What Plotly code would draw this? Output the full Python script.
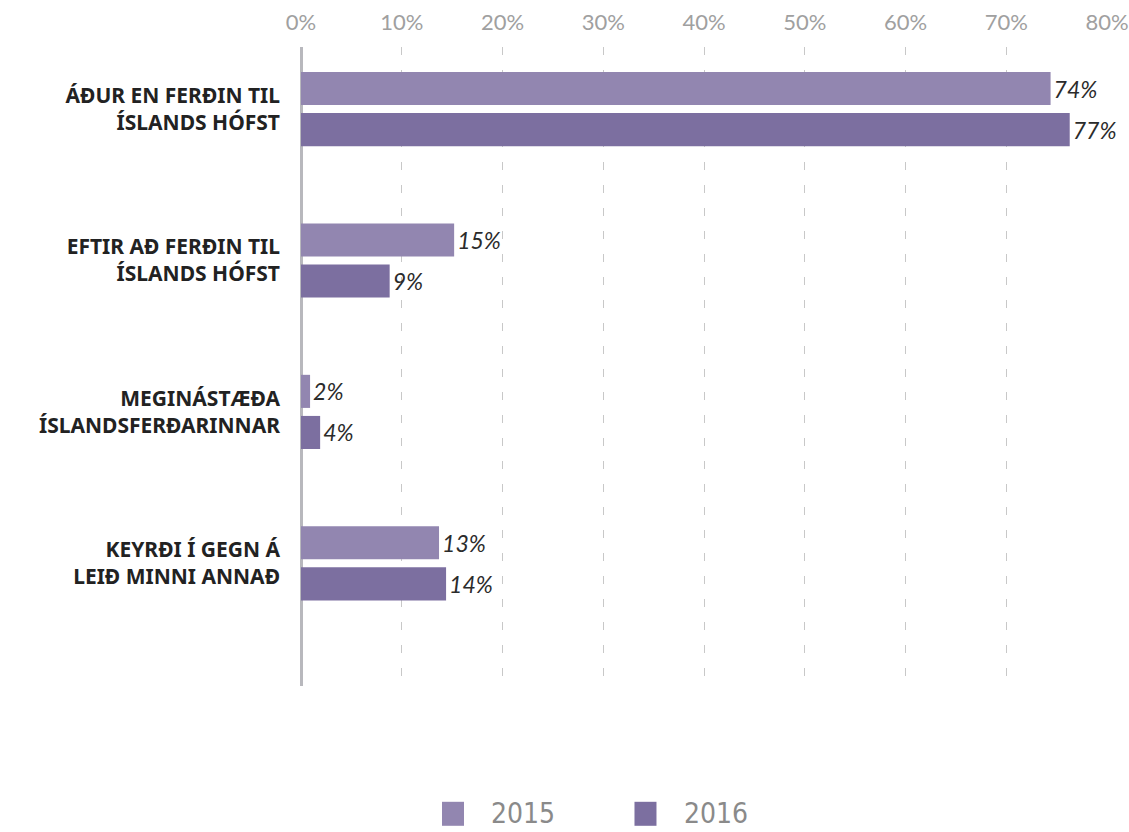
import plotly.graph_objects as go

categories = [
    "ÁÐUR EN FERÐIN TIL<br>ÍSLANDS HÓFST",
    "EFTIR AÐ FERÐIN TIL<br>ÍSLANDS HÓFST",
    "MEGINÁSTÆÐA<br>ÍSLANDSFERÐARINNAR",
    "KEYRÐI Í GEGN Á<br>LEIÐ MINNI ANNAÐ",
]
years = ["2015", "2016"]
values_2015 = [74.4, 15.2, 0.9, 13.7]
values_2016 = [76.3, 8.8, 1.9, 14.4]
labels_2015 = ["74%", "15%", "2%", "13%"]
labels_2016 = ["77%", "9%", "4%", "14%"]
colors = ["#9286b0", "#7c6fa0"]

fig = go.Figure()
for name, vals, labs, col in zip(years, [values_2015, values_2016],
                                 [labels_2015, labels_2016], colors):
    fig.add_trace(go.Bar(
        y=categories, x=vals, name=name, orientation="h",
        marker=dict(color=col, line=dict(width=0)),
        text=labs, textposition="outside", cliponaxis=False,
        textfont=dict(family="Lato", size=23, color="#2b2b2b", style="italic"),
        showlegend=False,
    ))

# legend drawn by hand so the squares match the larger swatches
legend_x = [0.1886, 0.4274]
for name, col, lx in zip(years, colors, legend_x):
    fig.add_shape(type="rect", xref="paper", yref="paper",
                  xsizemode="pixel", ysizemode="pixel",
                  xanchor=lx, yanchor=-0.2, x0=-11, x1=11, y0=-12, y1=12,
                  fillcolor=col, line=dict(width=0))
    fig.add_annotation(text=name, xref="paper", yref="paper",
                       x=lx + 0.045, y=-0.2, xanchor="left", yanchor="middle",
                       showarrow=False,
                       font=dict(family="DejaVu Sans Condensed, Roboto", size=28,
                                 color="#8a8a8a"))

fig.update_layout(
    width=1129, height=832,
    margin=dict(l=301, r=22, t=47, b=146),
    paper_bgcolor="white", plot_bgcolor="white",
    barmode="group", bargap=0.457, bargroupgap=0.195,
    xaxis=dict(
        side="top", range=[0, 80], dtick=10, ticksuffix="%", automargin=False,
        showgrid=True, gridcolor="#c8c8c8", gridwidth=1, griddash="8px,15px",
        zeroline=True, zerolinecolor="#b8b8bd", zerolinewidth=2.5,
        showline=False, ticks="", ticklabelstandoff=12,
        tickfont=dict(family="Lato", size=22, color="#a0a0a0"),
    ),
    yaxis=dict(
        categoryorder="array", categoryarray=categories, automargin=False,
        range=[3.81, -0.41], showgrid=False, zeroline=False, showline=False,
        ticks="", ticklabelstandoff=20,
        tickfont=dict(family="Noto Sans", size=21, color="#222222", weight="bold"),
    ),
)

# drop the default page margin so the figure sits at the window's corner
fig.write_html("out.html", config={"displayModeBar": False},
               post_script="document.body.style.margin='0';")
